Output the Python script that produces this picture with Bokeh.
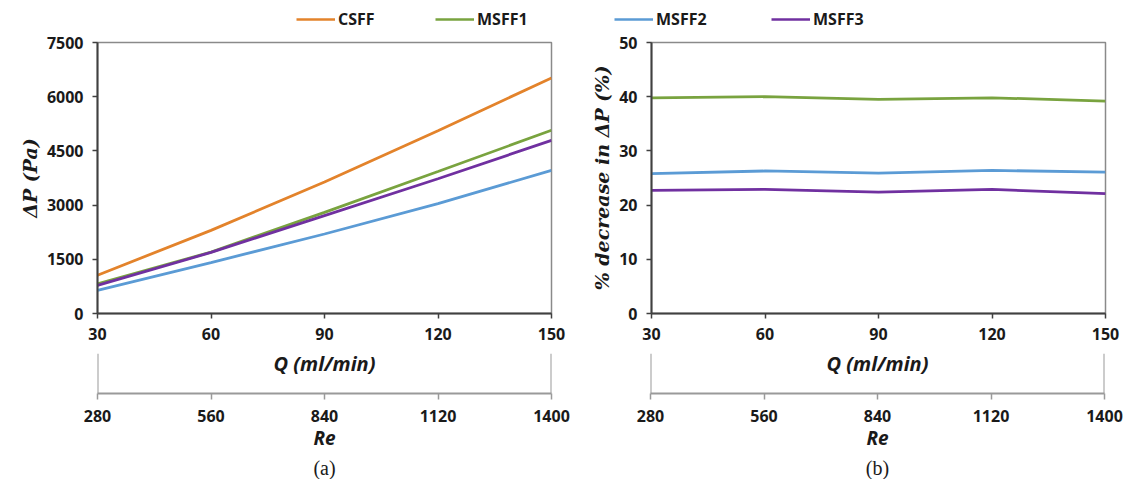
from bokeh.plotting import figure
from bokeh.models import (Range1d, FixedTicker, Legend, LegendItem, Span, Label, Title)
from bokeh.layouts import column, row
from bokeh.embed import file_html
from bokeh.resources import INLINE

# ---------------- data ----------------
q_flow = [30, 60, 90, 120, 150]              # Q (ml/min)
re_ticks = [280, 560, 840, 1120, 1400]       # Re
dp_csff = [1060, 2300, 3640, 5060, 6520]     # ΔP (Pa)
dp_msff1 = [820, 1700, 2800, 3930, 5070]
dp_msff2 = [640, 1410, 2200, 3040, 3960]
dp_msff3 = [780, 1690, 2710, 3730, 4790]
dec_msff1 = [39.8, 40.0, 39.5, 39.8, 39.2]  # % decrease in ΔP
dec_msff2 = [25.8, 26.3, 25.9, 26.4, 26.1]
dec_msff3 = [22.7, 22.9, 22.4, 22.9, 22.1]
dp_ticks = [0, 1500, 3000, 4500, 6000, 7500]
dec_ticks = [0, 10, 20, 30, 40, 50]
series_names = ["CSFF", "MSFF1", "MSFF2", "MSFF3"]

C_CSFF = "#E3832B"
C_M1 = "#79A33F"
C_M2 = "#5B9BD5"
C_M3 = "#7030A0"
colors = [C_CSFF, C_M1, C_M2, C_M3]

FONT = "Open Sans"
FW = 454
FH = 271
AX_DARK = "#404040"
TXT = "#1a1a1a"
LW = 2.8
TOP_STRIP = 30


def main_fig(mbl, mbr, yrange, yticks, ylabel):
    p = figure(frame_width=FW, frame_height=FH, output_backend="svg",
               toolbar_location=None, x_range=Range1d(30, 150), y_range=yrange,
               min_border_left=mbl, min_border_right=mbr, min_border_top=12,
               min_border_bottom=37, background_fill_color="white",
               border_fill_color="white")
    p.grid.visible = False
    p.outline_line_color = "#8a8a8a"
    p.outline_line_width = 1.5
    p.xaxis.ticker = FixedTicker(ticks=q_flow)
    p.yaxis.ticker = FixedTicker(ticks=yticks)
    for ax in (p.xaxis, p.yaxis):
        ax.axis_line_color = AX_DARK
        ax.axis_line_width = 2
        ax.major_tick_line_color = AX_DARK
        ax.major_tick_line_width = 1.5
        ax.major_tick_out = 5
        ax.major_tick_in = 0
        ax.minor_tick_line_color = None
        ax.major_label_text_font = FONT
        ax.major_label_text_font_style = "bold"
        ax.major_label_text_font_size = "16px"
        ax.major_label_text_color = TXT
    p.xaxis.major_label_standoff = 9
    p.yaxis.major_label_standoff = 9
    p.yaxis.axis_label = ylabel
    p.yaxis.axis_label_text_font = "DejaVu Serif"
    p.yaxis.axis_label_text_font_style = "bold italic"
    p.yaxis.axis_label_text_font_size = "19px"
    p.yaxis.axis_label_text_color = TXT
    p.yaxis.axis_label_standoff = 3
    return p


def re_fig(mbl, mbr, tag):
    r = figure(frame_width=FW, frame_height=40, output_backend="svg",
               toolbar_location=None, x_range=Range1d(280, 1400), y_range=Range1d(0, 1),
               y_axis_location=None, min_border_left=mbl, min_border_right=mbr,
               min_border_top=3, min_border_bottom=0, background_fill_color="white",
               border_fill_color="white")
    r.grid.visible = False
    r.outline_line_color = None
    ax = r.xaxis
    ax.ticker = FixedTicker(ticks=re_ticks)
    ax.axis_line_color = "#9a9a9a"
    ax.axis_line_width = 2
    ax.major_tick_line_color = "#9a9a9a"
    ax.major_tick_line_width = 1.5
    ax.major_tick_out = 6
    ax.major_tick_in = 0
    ax.minor_tick_line_color = None
    ax.major_label_text_font = FONT
    ax.major_label_text_font_style = "bold"
    ax.major_label_text_font_size = "16px"
    ax.major_label_text_color = TXT
    ax.major_label_standoff = 10
    ax.axis_label = "Re"
    ax.axis_label_text_font = FONT
    ax.axis_label_text_font_style = "bold italic"
    ax.axis_label_text_font_size = "19px"
    ax.axis_label_text_color = TXT
    ax.axis_label_standoff = 0
    for loc in (re_ticks[0], re_ticks[-1]):
        r.add_layout(Span(location=loc, dimension="height", line_color="#9a9a9a",
                          line_width=2))
    r.add_layout(Label(x=FW / 2, y=30, x_units="screen", y_units="screen",
                       text="Q (ml/min)", text_align="center", text_baseline="middle",
                       text_font=FONT, text_font_style="bold italic",
                       text_font_size="20px", text_color=TXT))
    r.add_layout(Title(text=tag, align="center", text_font="Liberation Serif",
                       text_font_style="normal", text_font_size="20px",
                       text_color=TXT, standoff=2), "below")
    return r


# ---------------- legend strip ----------------
# The series are plotted here outside the visible range; only their legend keys show.
lg_fig = figure(frame_width=1127, frame_height=TOP_STRIP, output_backend="svg",
                toolbar_location=None, x_range=Range1d(0, 1), y_range=Range1d(0, 1),
                x_axis_location=None, y_axis_location=None, min_border=0,
                background_fill_color="white", border_fill_color="white")
lg_fig.grid.visible = False
lg_fig.outline_line_color = None
lg_series = [dp_csff, dp_msff1, dp_msff2, dp_msff3]
lg_lines = [lg_fig.line(x=q_flow, y=s, line_color=c, line_width=2.5)
            for s, c in zip(lg_series, colors)]

leg1 = Legend(items=[LegendItem(label=series_names[0], renderers=[lg_lines[0]]),
                     LegendItem(label=series_names[1], renderers=[lg_lines[1]])],
              orientation="horizontal", location=(296, 0))
leg2 = Legend(items=[LegendItem(label=series_names[2], renderers=[lg_lines[2]]),
                     LegendItem(label=series_names[3], renderers=[lg_lines[3]])],
              orientation="horizontal", location=(614, 0))
for lg, lw in ((leg1, 95), (leg2, 113)):
    lg.background_fill_alpha = 0
    lg.border_line_color = None
    lg.padding = 0
    lg.margin = 0
    lg.glyph_width = 39
    lg.glyph_height = 14
    lg.label_height = 14
    lg.label_standoff = 3
    lg.spacing = 2
    lg.label_width = lw
    lg.label_text_font = FONT
    lg.label_text_font_style = "bold"
    lg.label_text_font_size = "16px"
    lg.label_text_color = TXT
    lg_fig.add_layout(lg)

# ---------------- panel (a) ----------------
p1 = main_fig(97, 37, Range1d(0, 7500), dp_ticks, "ΔP (Pa)")
p1.line(q_flow, dp_csff, line_color=C_CSFF, line_width=LW)
p1.line(q_flow, dp_msff1, line_color=C_M1, line_width=LW)
p1.line(q_flow, dp_msff2, line_color=C_M2, line_width=LW)
p1.line(q_flow, dp_msff3, line_color=C_M3, line_width=LW)

# ---------------- panel (b) ----------------
p2 = main_fig(62, 23, Range1d(0, 50), dec_ticks, "% decrease in ΔP (%)")
p2.line(q_flow, dec_msff1, line_color=C_M1, line_width=LW)
p2.line(q_flow, dec_msff2, line_color=C_M2, line_width=LW)
p2.line(q_flow, dec_msff3, line_color=C_M3, line_width=LW)

r1 = re_fig(97, 37, "(a)")
r2 = re_fig(62, 23, "(b)")

layout = column(lg_fig, row(p1, p2), row(r1, r2))

with open("out.html", "w") as f:
    f.write(file_html(layout, INLINE))
